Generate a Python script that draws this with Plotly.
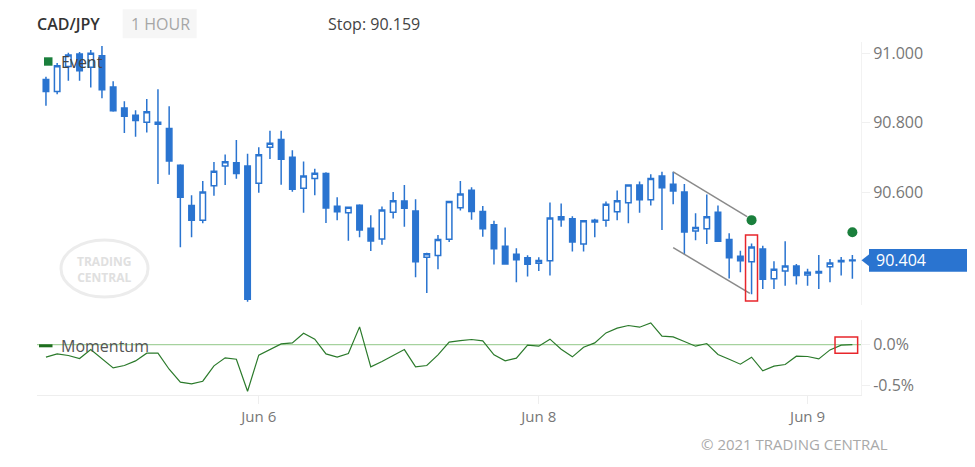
import plotly.graph_objects as go

W, H = 967, 451
OX, OY = 8, 8          # page body margin of the html page
ML, MR = 37 - OX, W - (861 - OX)
PW = W - ML - MR


def px(x):
    return (x - OX - ML) / PW


def py(y):
    return 1 - (y - OY) / H


# ---------------- data ----------------
idx = list(range(73))
opens = [90.924, 90.889, 90.961, 90.997, 90.959, 90.992, 90.902, 90.842, 90.821, 90.801,
         90.801, 90.783, 90.677, 90.561, 90.519, 90.618, 90.675, 90.684, 90.675, 90.625,
         90.729, 90.751, 90.700, 90.611, 90.639, 90.653, 90.559, 90.540, 90.562, 90.496,
         90.465, 90.542, 90.574, 90.545, 90.412, 90.417, 90.464, 90.555, 90.605, 90.544,
         90.506, 90.444, 90.421, 90.411, 90.395, 90.402, 90.529, 90.523, 90.450, 90.519,
         90.519, 90.543, 90.569, 90.620, 90.578, 90.646, 90.622, 90.600, 90.488, 90.494,
         90.542, 90.463, 90.415, 90.399, 90.436, 90.350, 90.373, 90.387, 90.361, 90.367,
         90.385, 90.399, 90.402]
highs = [90.932, 90.971, 91.001, 91.003, 91.009, 91.020, 90.919, 90.861, 90.835, 90.868,
         90.896, 90.847, 90.680, 90.591, 90.632, 90.686, 90.708, 90.750, 90.710, 90.729,
         90.776, 90.776, 90.720, 90.688, 90.667, 90.657, 90.585, 90.556, 90.565, 90.533,
         90.558, 90.600, 90.620, 90.579, 90.425, 90.476, 90.575, 90.632, 90.614, 90.560,
         90.517, 90.498, 90.438, 90.418, 90.412, 90.570, 90.567, 90.530, 90.519, 90.523,
         90.573, 90.604, 90.622, 90.630, 90.651, 90.658, 90.658, 90.623, 90.539, 90.593,
         90.561, 90.481, 90.431, 90.452, 90.445, 90.401, 90.458, 90.393, 90.379, 90.419,
         90.407, 90.413, 90.419]
lows = [90.848, 90.881, 90.920, 90.920, 90.901, 90.870, 90.831, 90.770, 90.759, 90.771,
        90.623, 90.650, 90.441, 90.470, 90.510, 90.589, 90.620, 90.638, 90.284, 90.598,
        90.695, 90.621, 90.601, 90.540, 90.591, 90.511, 90.519, 90.460, 90.470, 90.430,
        90.448, 90.524, 90.500, 90.355, 90.309, 90.378, 90.456, 90.547, 90.520, 90.471,
        90.391, 90.391, 90.340, 90.357, 90.373, 90.360, 90.500, 90.429, 90.429, 90.470,
        90.500, 90.519, 90.510, 90.540, 90.561, 90.491, 90.565, 90.421, 90.461, 90.450,
        90.456, 90.351, 90.369, 90.306, 90.321, 90.321, 90.330, 90.334, 90.330, 90.321,
        90.340, 90.360, 90.350]
closes = [90.889, 90.963, 90.994, 90.949, 90.999, 90.894, 90.834, 90.818, 90.806, 90.831,
          90.795, 90.689, 90.585, 90.519, 90.600, 90.660, 90.687, 90.653, 90.291, 90.707,
          90.740, 90.694, 90.608, 90.646, 90.654, 90.554, 90.543, 90.556, 90.491, 90.459,
          90.548, 90.575, 90.553, 90.399, 90.422, 90.463, 90.573, 90.594, 90.544, 90.494,
          90.437, 90.393, 90.405, 90.392, 90.403, 90.525, 90.520, 90.456, 90.517, 90.514,
          90.565, 90.575, 90.620, 90.578, 90.639, 90.612, 90.603, 90.485, 90.498, 90.529,
          90.458, 90.411, 90.402, 90.442, 90.349, 90.378, 90.387, 90.360, 90.369, 90.371,
          90.396, 90.403, 90.404]
momentum = [-0.153, -0.113, -0.133, -0.170, -0.061, -0.174, -0.283, -0.254, -0.198, -0.105,
            -0.105, -0.299, -0.456, -0.476, -0.444, -0.258, -0.161, -0.178, -0.565, -0.129,
            -0.061, 0.008, 0.020, 0.137, 0.065, -0.113, -0.153, -0.109, 0.214, -0.270,
            -0.206, -0.129, -0.061, -0.270, -0.254, -0.125, 0.030, 0.048, 0.061, 0.044,
            -0.125, -0.198, -0.165, -0.008, -0.020, 0.065, -0.057, -0.149, -0.032, 0.020,
            0.141, 0.198, 0.230, 0.210, 0.262, 0.101, 0.093, 0.036, -0.020, 0.012,
            -0.121, -0.178, -0.238, -0.153, -0.319, -0.262, -0.242, -0.141, -0.145, -0.174,
            -0.065, -0.008, 0.000]
tick_pos = [19, 44, 68]
tick_text = ["Jun 6", "Jun 8", "Jun 9"]
price_ticks = [91.0, 90.8, 90.6]
price_tick_text = ["91.000", "90.800", "90.600"]
mom_ticks = [0.0, -0.5]
mom_tick_text = ["0.0%", "-0.5%"]
last_price = 90.404
stop_level = "90.159"
symbol = "CAD/JPY"
period = "1 HOUR"
event_x = [63, 72]
event_y = [90.519, 90.484]
channel_upper = [(56, 90.658), (62.6, 90.529)]
channel_lower = [(56, 90.440), (62.85, 90.3085)]
price_box = [(62.46, 90.286), (63.53, 90.476)]
mom_box = [(70.45, -0.107), (72.47, 0.091)]

BLUE = "#2a74d0"
GREEN = "#1a7f3c"
FONT = "Open Sans"

fig = go.Figure()

fig.add_trace(go.Candlestick(
    x=idx, open=opens, high=highs, low=lows, close=closes,
    increasing=dict(line=dict(color=BLUE, width=1.5), fillcolor="white"),
    decreasing=dict(line=dict(color=BLUE, width=1.5), fillcolor=BLUE),
    whiskerwidth=0, showlegend=False, xaxis="x", yaxis="y",
))

fig.add_trace(go.Scatter(
    x=event_x, y=event_y, mode="markers",
    marker=dict(color=GREEN, size=10), showlegend=False, xaxis="x", yaxis="y",
))

fig.add_trace(go.Scatter(
    x=idx, y=momentum, mode="lines",
    line=dict(color="#2b7a2b", width=1.2), showlegend=False, xaxis="x2", yaxis="y2",
))

shapes = []
# momentum zero line
shapes.append(dict(type="line", xref="x2 domain", yref="y2", x0=0, x1=1, y0=0, y1=0,
                   line=dict(color="#a6d29e", width=1.2), layer="below"))
# channel lines
for seg in (channel_upper, channel_lower):
    shapes.append(dict(type="line", xref="x", yref="y", x0=seg[0][0], y0=seg[0][1],
                       x1=seg[1][0], y1=seg[1][1], line=dict(color="#8a8a8a", width=1.5)))
# red boxes
shapes.append(dict(type="rect", xref="x", yref="y", x0=price_box[0][0], y0=price_box[0][1],
                   x1=price_box[1][0], y1=price_box[1][1], line=dict(color="#e8262b", width=1.5)))
shapes.append(dict(type="rect", xref="x2", yref="y2", x0=mom_box[0][0], y0=mom_box[0][1],
                   x1=mom_box[1][0], y1=mom_box[1][1], line=dict(color="#e8262b", width=1.5)))
# legend markers
shapes.append(dict(type="rect", xref="paper", yref="paper", x0=px(44), x1=px(52.5),
                   y0=py(65.7), y1=py(57.3), fillcolor=GREEN, line=dict(width=0)))
shapes.append(dict(type="rect", xref="paper", yref="paper", x0=px(39), x1=px(52.5),
                   y0=py(347.3), y1=py(344.3), fillcolor="#1f6e1f", line=dict(width=0)))
# watermark ellipse
shapes.append(dict(type="circle", xref="paper", yref="paper", x0=px(61), x1=px(148),
                   y0=py(297), y1=py(240), line=dict(color="#ececec", width=3), layer="below"))
# header period box
shapes.append(dict(type="rect", xref="paper", yref="paper", x0=px(122.7), x1=px(196.7),
                   y0=py(38.3), y1=py(9.3), fillcolor="#f6f6f6", line=dict(width=0),
                   layer="below"))
# last price label box + pointer
shapes.append(dict(type="rect", xref="paper", yref="paper", x0=px(869), x1=px(975),
                   y0=py(271.7), y1=py(249), fillcolor=BLUE, line=dict(width=0)))
shapes.append(dict(type="path", xref="paper", yref="paper",
                   path="M %f,%f L %f,%f L %f,%f Z" % (px(861.5), py(260.3), px(869.5), py(254),
                                                      px(869.5), py(266.6)),
                   fillcolor=BLUE, line=dict(width=0)))

annotations = [
    dict(text=symbol, x=px(35), y=py(24), xref="paper", yref="paper", xanchor="left",
         yanchor="middle", showarrow=False,
         font=dict(family=FONT, size=16, color="#333333", weight=600)),
    dict(text=period, x=px(129), y=py(24), xref="paper", yref="paper", xanchor="left",
         yanchor="middle", showarrow=False, font=dict(family=FONT, size=16, color="#a6a6a6")),
    dict(text="Stop: " + stop_level, x=px(326), y=py(24), xref="paper", yref="paper",
         xanchor="left", yanchor="middle", showarrow=False,
         font=dict(family=FONT, size=16, color="#444444")),
    dict(text="Event", x=px(59), y=py(62), xref="paper", yref="paper", xanchor="left",
         yanchor="middle", showarrow=False, font=dict(family=FONT, size=16, color="#444444")),
    dict(text="Momentum", x=px(59), y=py(346), xref="paper", yref="paper", xanchor="left",
         yanchor="middle", showarrow=False, font=dict(family=FONT, size=16, color="#555555")),
    dict(text="%.3f" % last_price, x=px(874), y=py(260.5), xref="paper", yref="paper",
         xanchor="left", yanchor="middle", showarrow=False,
         font=dict(family=FONT, size=16, color="white")),
    dict(text="© 2021 TRADING CENTRAL", x=px(890), y=py(444), xref="paper", yref="paper",
         xanchor="right", yanchor="middle", showarrow=False,
         font=dict(family=FONT, size=15, color="#a9a9a9")),
    dict(text="<b>TRADING<br>CENTRAL</b>", x=px(104), y=py(269.5), xref="paper",
         yref="paper", xanchor="center", yanchor="middle", showarrow=False,
         font=dict(family=FONT, size=12, color="#e0e0e0")),
]

xr = [-0.8, 72.77]
fig.update_layout(
    width=W, height=H,
    margin=dict(l=ML, r=MR, t=0, b=0),
    paper_bgcolor="white", plot_bgcolor="white",
    font=dict(family=FONT, size=16, color="#777777"),
    showlegend=False,
    shapes=shapes, annotations=annotations,
    xaxis=dict(domain=[0, 1], range=xr, anchor="y", showticklabels=False, showgrid=False,
               zeroline=False, showline=False, ticks="", rangeslider=dict(visible=False),
               fixedrange=True),
    yaxis=dict(domain=[py(305), py(42)], range=[90.2748, 91.0317], side="right",
               tickvals=price_ticks, ticktext=price_tick_text, ticks="outside", ticklen=8,
               tickcolor="#f0f0f0", showline=True, linecolor="#f2f2f2", showgrid=False,
               zeroline=False, tickfont=dict(size=16, color="#777777")),
    xaxis2=dict(domain=[0, 1], range=xr, anchor="y2", tickvals=tick_pos, ticktext=tick_text,
                ticks="outside", ticklen=8, tickcolor="#eeeeee", showline=True,
                linecolor="#eeeeee", showgrid=False, zeroline=False,
                tickfont=dict(size=15, color="#777777")),
    yaxis2=dict(domain=[py(395), py(320)], range=[-0.611, 0.297], side="right",
                tickvals=mom_ticks, ticktext=mom_tick_text, ticks="outside", ticklen=8,
                tickcolor="#f0f0f0", showline=True, linecolor="#f2f2f2", showgrid=False,
                zeroline=False, tickfont=dict(size=16, color="#777777")),
)

fig.write_html("out.html")
